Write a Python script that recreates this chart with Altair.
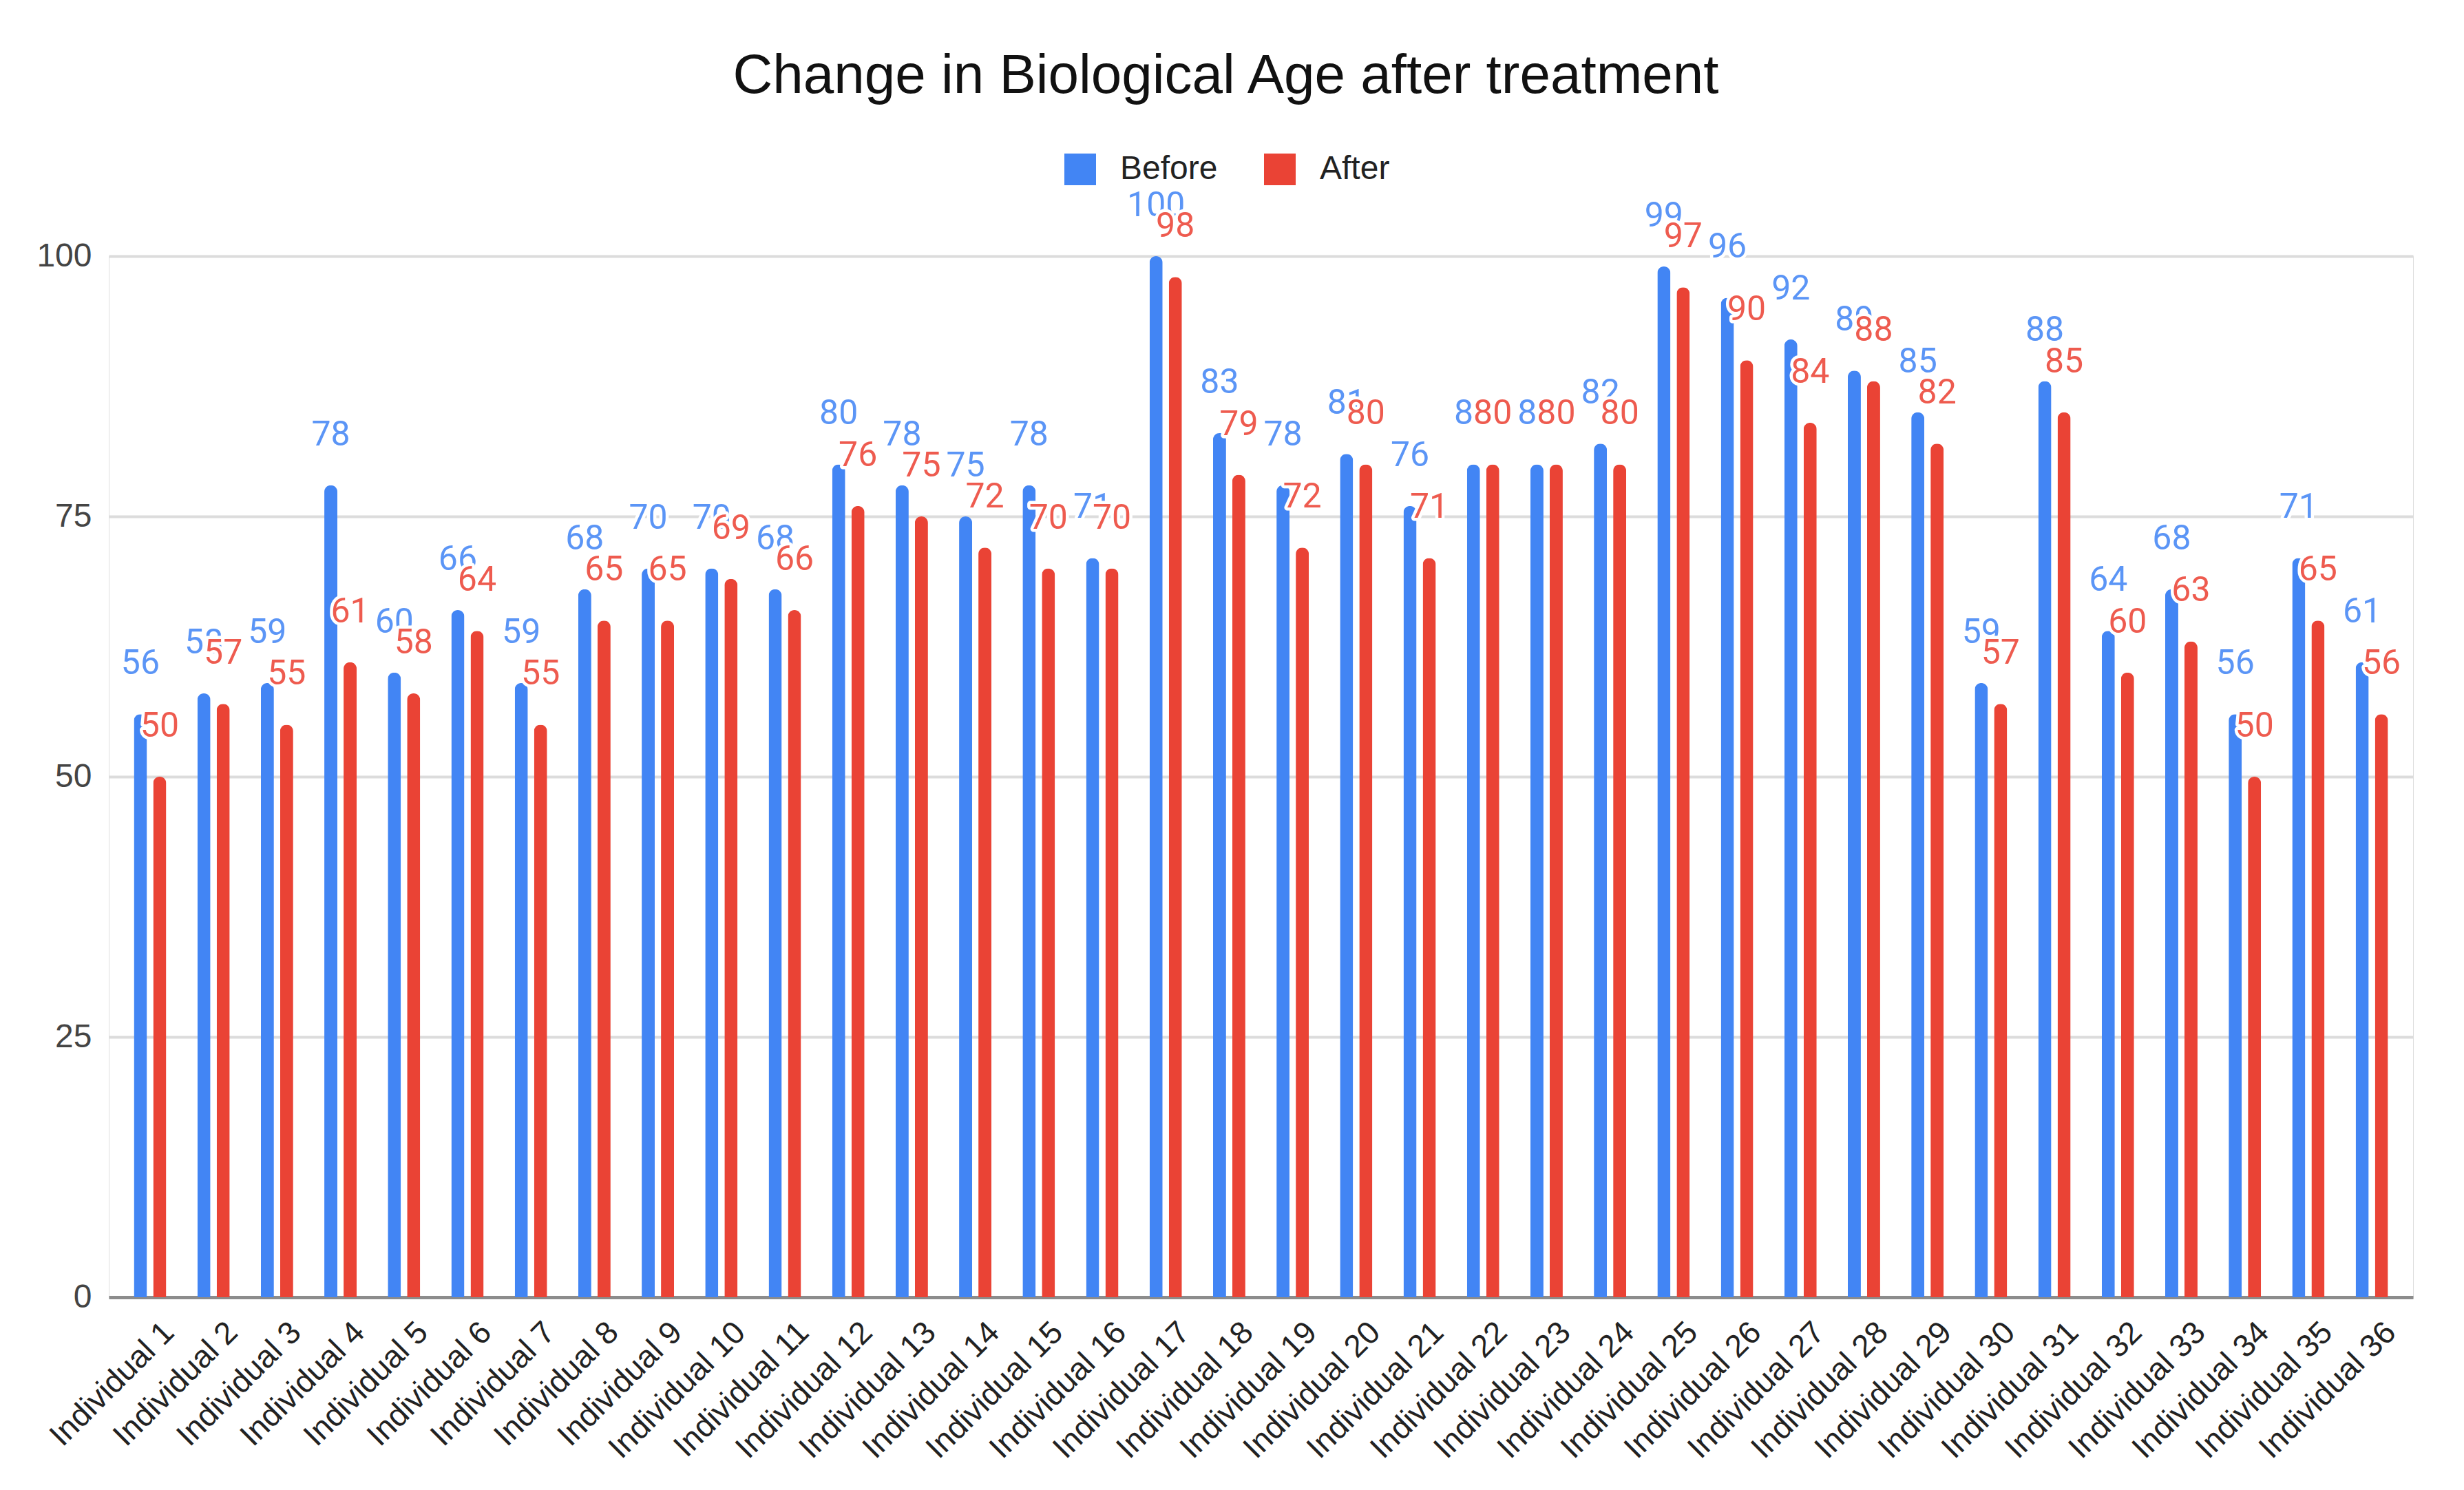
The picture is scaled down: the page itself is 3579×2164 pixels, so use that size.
import altair as alt
import pandas as pd

individuals = [f"Individual {i}" for i in range(1, 37)]
before = [56, 58, 59, 78, 60, 66, 59, 68, 70, 70, 68, 80, 78, 75, 78, 71, 100, 83,
          78, 81, 76, 80, 80, 82, 99, 96, 92, 89, 85, 59, 88, 64, 68, 56, 71, 61]
after = [50, 57, 55, 61, 58, 64, 55, 65, 65, 69, 66, 76, 75, 72, 70, 70, 98, 79,
         72, 80, 71, 80, 80, 80, 97, 90, 84, 88, 82, 57, 85, 60, 63, 50, 65, 56]
series = ["Before", "After"]
y_ticks = [0, 25, 50, 75, 100]

rows = []
for ind, b, a in zip(individuals, before, after):
    rows.append({"Individual": ind, "Series": "Before", "Value": b})
    rows.append({"Individual": ind, "Series": "After", "Value": a})
df = pd.DataFrame(rows)

FONT = "Liberation Sans"
BAR_COLORS = ["#4285F4", "#EA4335"]
LABEL_COLORS = {"Before": "#5b95f6", "After": "#ee5b4f"}

x_enc = alt.X("Individual:N", sort=individuals,
              scale=alt.Scale(paddingInner=0.393, paddingOuter=0.3465),
              axis=alt.Axis(title=None, labelAngle=315, labelFontSize=46, labelFont=FONT,
                            labelColor="#222222", ticks=False, labelPadding=28, labelOffset=12,
                            labelLimit=0, labelOverlap=False,
                            domainColor="#8c8c8c", domainWidth=5, grid=False))
xoff_enc = alt.XOffset("Series:N", sort=series,
                       scale=alt.Scale(paddingInner=0.321, paddingOuter=0.16))
y_enc = alt.Y("Value:Q", scale=alt.Scale(domain=[0, 100], nice=False),
              axis=alt.Axis(title=None, values=y_ticks, labelFontSize=48, labelFont=FONT,
                            labelColor="#444444", ticks=False, domain=False, labelPadding=25,
                            gridColor="#dcdcdc", gridWidth=4))

base = alt.Chart(df).encode(x=x_enc, xOffset=xoff_enc, y=y_enc)

bars = base.mark_bar(cornerRadiusTopLeft=9.5, cornerRadiusTopRight=9.5).encode(
    color=alt.Color("Series:N", sort=series,
                    scale=alt.Scale(domain=series, range=BAR_COLORS),
                    legend=alt.Legend(title=None, orient="none", direction="horizontal",
                                      legendX=1387, legendY=-150, symbolType="square",
                                      symbolSize=2116, symbolStrokeWidth=0,
                                      labelFontSize=48, labelFont=FONT, labelColor="#222222",
                                      labelOffset=34, columnPadding=66))
)

layers = [bars]
for s in series:
    sub = base.transform_filter(alt.datum.Series == s)
    halo = sub.mark_text(font="Roboto", fontSize=50, dy=-58, baseline="alphabetic",
                         stroke="white", strokeWidth=9, strokeJoin="round",
                         fill="white").encode(text="Value:Q")
    txt = sub.mark_text(font="Roboto", fontSize=50, dy=-58, baseline="alphabetic",
                        color=LABEL_COLORS[s]).encode(text="Value:Q")
    layers += [halo, txt]

chart = alt.layer(*layers).properties(
    width=3347, height=1512,
    autosize=alt.AutoSizeParams(type="none"),
    padding={"left": 150, "top": 364, "right": 66, "bottom": 272},
    title=alt.TitleParams("Change in Biological Age after treatment", font=FONT,
                          fontSize=80, fontWeight="normal", color="#111111",
                          anchor="middle", dx=-51, offset=70),
).configure_view(stroke=None).configure(background="white")

chart.save("out.html", embed_options={"renderer": "svg", "actions": False})
